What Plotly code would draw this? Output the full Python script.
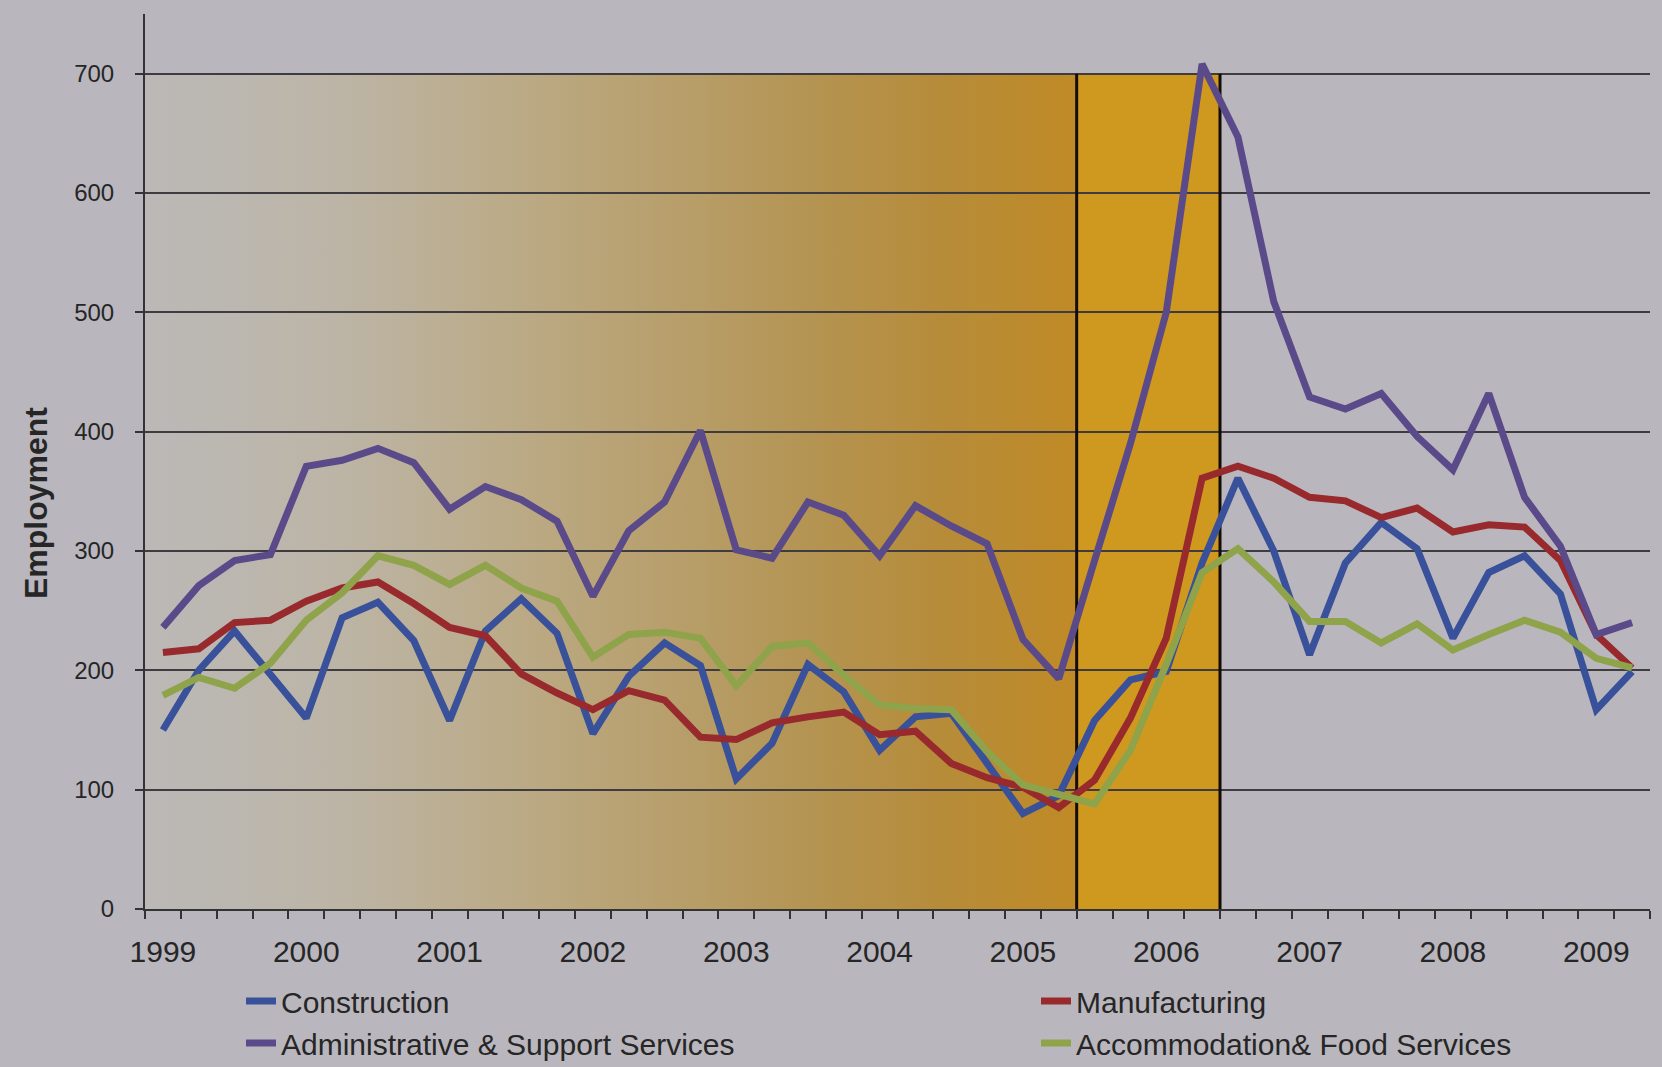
import base64
import plotly.graph_objects as go

# ---------------- data ----------------
quarters = [f"{y} Q{q}" for y in range(1999, 2010) for q in range(1, 5)][:42]
year_labels = [str(y) for y in range(1999, 2010)]

construction = [150, 200, 233, 197, 160, 244, 257, 225, 158, 233, 260, 231, 147, 195,
                223, 204, 109, 139, 205, 182, 133, 161, 164, 122, 80, 95, 158, 192,
                199, 290, 361, 300, 213, 290, 324, 302, 227, 282, 296, 264, 167, 199]
manufacturing = [215, 218, 240, 242, 258, 269, 274, 256, 236, 229, 197, 181, 167, 183,
                 175, 144, 142, 156, 161, 165, 146, 149, 122, 110, 102, 85, 108, 160,
                 227, 361, 371, 361, 345, 342, 328, 336, 316, 322, 320, 292, 230, 202]
admin_support = [236, 271, 292, 297, 371, 376, 386, 374, 335, 354, 343, 325, 262, 317,
                 341, 401, 301, 294, 341, 330, 296, 338, 321, 306, 226, 193, 292, 390,
                 500, 708, 647, 509, 429, 419, 432, 396, 368, 432, 345, 304, 230, 240]
accommodation = [179, 194, 185, 206, 242, 265, 296, 288, 272, 288, 269, 258, 211, 230,
                 232, 227, 187, 220, 223, 196, 171, 168, 167, 132, 104, 96, 88, 133,
                 205, 282, 302, 274, 241, 241, 223, 239, 217, 230, 242, 232, 210, 202]

series_names = ["Construction", "Manufacturing",
                "Administrative & Support Services", "Accommodation& Food Services"]
legend_column = ["legend", "legend2", "legend", "legend2"]

# shaded periods (in quarter indices)
grad_start_q, grad_end_q = 0, 26      # gradient band: 1999 Q1 .. 2005 Q2
solid_end_q = 30                      # solid band: 2005 Q3 .. 2006 Q2
band_top = 700

# ---------------- styling ----------------
BG = "#B9B7BD"
GRID = "#3E3C40"
TXT = "#262626"
colors = ["#39509A", "#982A2D", "#5B4A8A", "#8FA34B"]
FONT = "Liberation Sans, Arial, sans-serif"

# plot-area pixel geometry (for legend / label placement)
L, R, T, B = 145, 12, 14, 158
W, H = 1662, 1067
PW, PH = W - L - R, H - T - B

def px_x(px):
    return (px - L) / PW

def px_y(py):
    return (H - B - py) / PH

x_idx = list(range(len(quarters)))
series = [construction, manufacturing, admin_support, accommodation]

fig = go.Figure()
for name, vals, col, lg in zip(series_names, series, colors, legend_column):
    fig.add_trace(go.Scatter(
        x=x_idx, y=vals, name=name, mode="lines", text=quarters, legend=lg,
        hovertemplate="%{text}: %{y}<extra>" + name + "</extra>",
        line=dict(color=col, width=7, shape="linear"),
    ))

# gradient band as svg image (below gridlines)
stops = [(0.0, "#BBB8B7"), (0.2, "#BCB5A7"), (0.4, "#BBAA86"), (0.55, "#B8A06E"),
         (0.7, "#B49555"), (0.85, "#B68C3A"), (1.0, "#C08A26")]
stop_xml = "".join(f'<stop offset="{o}" stop-color="{c}"/>' for o, c in stops)
svg = ('<svg xmlns="http://www.w3.org/2000/svg" width="200" height="100" viewBox="0 0 200 100" '
       'preserveAspectRatio="none"><defs><linearGradient id="g" x1="0" y1="0" x2="1" y2="0">'
       + stop_xml + '</linearGradient></defs><rect x="0" y="0" width="200" height="100" fill="url(#g)"/></svg>')
src = "data:image/svg+xml;base64," + base64.b64encode(svg.encode()).decode()
fig.add_layout_image(dict(source=src, xref="x", yref="y",
                          x=grad_start_q - 0.5, y=band_top,
                          sizex=grad_end_q - grad_start_q, sizey=band_top,
                          xanchor="left", yanchor="top", sizing="stretch",
                          layer="below", opacity=1))

fig.add_shape(type="rect", xref="x", yref="y", x0=grad_end_q - 0.5, x1=solid_end_q - 0.5,
              y0=0, y1=band_top, fillcolor="#CF981F", line=dict(width=0), layer="below")
for xb in (grad_end_q - 0.5, solid_end_q - 0.5):
    fig.add_shape(type="line", xref="x", yref="y", x0=xb, x1=xb, y0=0, y1=band_top,
                  line=dict(color="#140C06", width=3), layer="between")

fig.add_annotation(text="Employment", xref="paper", yref="paper",
                   x=px_x(36), y=px_y(503), textangle=-90,
                   showarrow=False, xanchor="center", yanchor="middle",
                   font=dict(family=FONT, size=32, color=TXT, weight="bold"))

legend_common = dict(orientation="v", yanchor="top", xanchor="left",
                     font=dict(size=30, family=FONT, color=TXT),
                     bgcolor="rgba(0,0,0,0)", traceorder="normal", tracegroupgap=0)

fig.update_layout(
    width=W, height=H,
    margin=dict(l=L, r=R, t=T, b=B, autoexpand=False),
    paper_bgcolor=BG, plot_bgcolor=BG,
    font=dict(family=FONT, color=TXT),
    showlegend=True,
    legend=dict(x=px_x(241), y=px_y(975), **legend_common),
    legend2=dict(x=px_x(1036), y=px_y(975), **legend_common),
    xaxis=dict(range=[-0.5, len(quarters) - 0.5], tickmode="array",
               tickvals=list(range(0, len(quarters), 4)), ticktext=year_labels,
               ticks="", showgrid=False, zeroline=False,
               showline=True, linecolor="#333", linewidth=2,
               tickfont=dict(size=30, family=FONT, color=TXT),
               ticklabelstandoff=15,
               minor=dict(tickmode="linear", tick0=-0.5, dtick=1, ticks="outside",
                          ticklen=8, tickwidth=2, tickcolor="#333", showgrid=False)),
    yaxis=dict(range=[0, 750], tickmode="linear", tick0=0, dtick=100,
               ticks="outside", ticklen=8, tickwidth=2, tickcolor="#333",
               showgrid=True, gridcolor=GRID, gridwidth=2, zeroline=False,
               showline=True, linecolor="#333", linewidth=2,
               tickfont=dict(size=24, family=FONT, color=TXT),
               ticklabelstandoff=16),
)

fig.write_html("out.html")
